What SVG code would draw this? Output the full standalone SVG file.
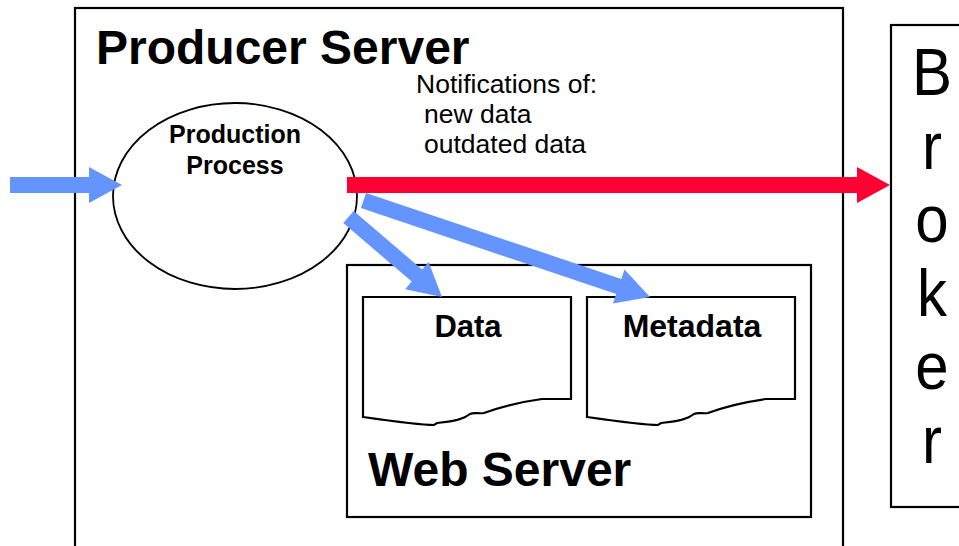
<svg xmlns="http://www.w3.org/2000/svg" width="959" height="546" viewBox="0 0 959 546">
<style>
.box{fill:#fff;stroke:#000;stroke-width:2.2}
.ell{fill:#fff;stroke:#000;stroke-width:1.8}
.t{font-family:"Liberation Sans",Arial,sans-serif;fill:#000}
.b{font-weight:bold}
.blue{fill:#6495FF}
.red{fill:#FF0033}
</style>
<rect width="959" height="546" fill="#fff"/>
<g id="producer-server">
<rect class="box" x="75" y="8" width="768" height="560"/>
<text class="t b" x="96" y="64" font-size="48">Producer Server</text>
</g>
<g id="broker">
<rect class="box" x="891" y="25" width="90" height="482"/>
<g class="t" font-size="60" text-anchor="middle" transform="translate(932,0) scale(1,1.1)">
<text x="0" y="86.4">B</text>
<text x="0" y="153.3">r</text>
<text x="0" y="220.2">o</text>
<text x="0" y="287.1">k</text>
<text x="0" y="354">e</text>
<text x="0" y="420.9">r</text>
</g>
</g>
<g id="production-process">
<ellipse class="ell" cx="235" cy="196" rx="122" ry="93"/>
<text class="t b" x="235" y="143" font-size="25" text-anchor="middle">Production</text>
<text class="t b" x="235" y="174" font-size="25" text-anchor="middle">Process</text>
</g>
<g id="notifications-label">
<text class="t" x="416" y="93" font-size="26.5">Notifications of:</text>
<text class="t" x="424" y="123" font-size="26.5">new data</text>
<text class="t" x="424" y="153" font-size="26.5">outdated data</text>
</g>
<g id="web-server">
<rect class="box" x="347" y="265" width="464" height="252"/>
<text class="t b" x="368" y="486" font-size="48">Web Server</text>
</g>
<g id="data">
<path class="box" d="M363,297 H571 V399 H542 C520,402 500,407 484,413 C478,414 474,412 470,414 C465,418 458,421 437,423 L434,425 C420,425 405,423 363,417 Z"/>
<text class="t b" x="468" y="337" font-size="31" text-anchor="middle">Data</text>
</g>
<g id="metadata">
<path class="box" transform="translate(224,0)" d="M363,297 H571 V399 H542 C520,402 500,407 484,413 C478,414 474,412 470,414 C465,418 458,421 437,423 L434,425 C420,425 405,423 363,417 Z"/>
<text class="t b" x="692" y="337" font-size="32" text-anchor="middle">Metadata</text>
</g>
<g id="connectors">
<polygon class="blue" points="10,177 89,177 89,167 122,185 89,203 89,193 10,193"/>
<polygon class="red" points="347,177 857,177 857,167 890,185 857,203 857,193 347,193"/>
<polygon class="blue" points="343.3,223.1 353.7,210.9 422.1,269.5 428.6,261.9 442,297 405.2,289.2 411.7,281.6"/>
<polygon class="blue" points="360.9,208.1 366.1,192.9 621.3,278.9 624.5,269.4 650,297 613,303.5 616.2,294"/>
</g>
</svg>
